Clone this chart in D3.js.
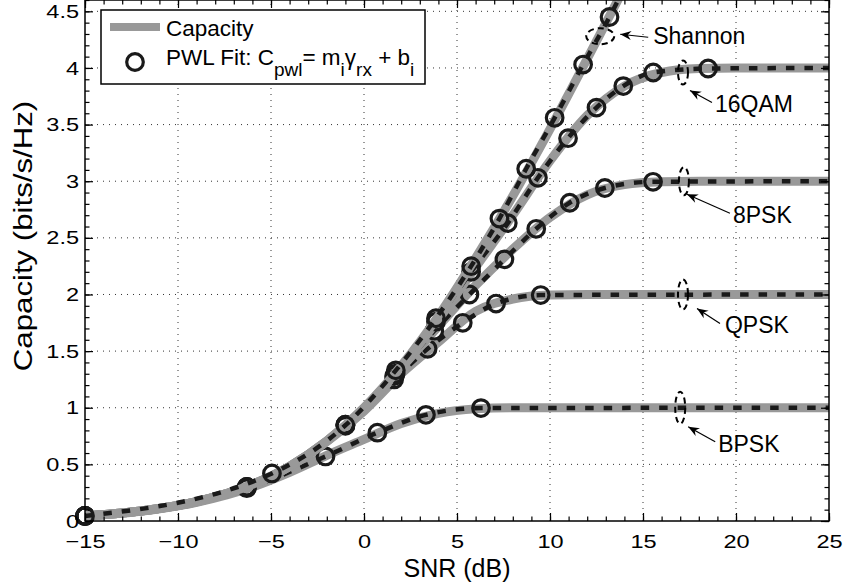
<!DOCTYPE html>
<html>
<head>
<meta charset="utf-8">
<script src="https://cdn.jsdelivr.net/npm/d3@7"></script>
<style>
  html, body { margin: 0; padding: 0; background: #fff; }
  svg { display: block; font-family: "Liberation Sans", Arial, Helvetica, sans-serif; }
</style>
</head>
<body>
<div id="chart"></div>
<script>
/** capacity curves (SNR in dB) */
var snrGrid = [-15, -12, -9, -6, -4, -2, 0, 2, 4, 6, 8, 10, 12, 14, 16, 18, 20, 22, 25];
var capBPSK = [0.045, 0.086, 0.165, 0.30, 0.43, 0.58, 0.72, 0.86, 0.95, 0.99, 1.0, 1.0, 1.0, 1.0, 1.0, 1.0, 1.0, 1.0, 1.0];
var capQPSK = [0.045, 0.088, 0.17, 0.32, 0.48, 0.70, 0.97, 1.30, 1.58, 1.85, 1.96, 1.995, 2.0, 2.0, 2.0, 2.0, 2.0, 2.0, 2.0];
var cap8PSK = [0.045, 0.088, 0.171, 0.323, 0.483, 0.705, 0.99, 1.35, 1.72, 2.08, 2.40, 2.68, 2.88, 2.97, 2.995, 3.0, 3.0, 3.0, 3.0];
var cap16QAM = [0.045, 0.088, 0.171, 0.323, 0.483, 0.706, 0.995, 1.36, 1.78, 2.24, 2.70, 3.18, 3.58, 3.84, 3.96, 3.995, 4.0, 4.0, 4.0];
var snrShannon = [-15, -12, -9, -6, -4, -2, 0, 2, 4, 6, 8, 10, 12, 14];
var capShannon = [0.045, 0.088, 0.171, 0.323, 0.483, 0.706, 1.0, 1.37, 1.81, 2.32, 2.87, 3.46, 4.08, 4.71];

/** piecewise-linear fit breakpoints (the circles) */
var fitSnrBPSK = [-15, -6.3, -2.07, 0.72, 3.33, 6.29];
var fitCapBPSK = [0.045, 0.29, 0.57, 0.78, 0.937, 0.997];
var fitSnrQPSK = [-15, -6.3, -1.0, 1.62, 3.42, 5.31, 7.1, 9.5];
var fitCapQPSK = [0.045, 0.30, 0.84, 1.25, 1.52, 1.75, 1.92, 1.995];
var fitSnr8PSK = [-15, -6.3, -1.0, 1.62, 3.78, 5.67, 7.55, 9.26, 11.06, 12.95, 15.54];
var fitCap8PSK = [0.045, 0.30, 0.85, 1.28, 1.68, 2.0, 2.31, 2.58, 2.81, 2.94, 2.995];
var fitSnr16QAM = [-15, -6.3, -1.0, 1.7, 3.87, 5.76, 7.73, 9.35, 10.97, 12.5, 13.94, 15.55, 18.5];
var fitCap16QAM = [0.045, 0.30, 0.85, 1.30, 1.76, 2.2, 2.63, 3.03, 3.38, 3.65, 3.84, 3.96, 3.995];
var fitSnrShannon = [-15, -4.95, -1.0, 1.71, 3.87, 5.76, 7.28, 8.72, 10.25, 11.78, 13.2, 14.7];
var fitCapShannon = [0.045, 0.42, 0.845, 1.33, 1.79, 2.25, 2.67, 3.11, 3.56, 4.03, 4.45, 4.95];

/** the fit runs flat out to the right edge at the saturation level */
var fitEndSnr = 25;
var fitEndCap = [1.0, 2.0, 3.0, 4.0, null];

/** annotation labels and where they point */
var annoNames = ["BPSK", "QPSK", "8PSK", "16QAM", "Shannon"];
var annoSnr = [17.0, 17.15, 17.2, 17.15, 12.7];
var annoCap = [1.0, 2.0, 3.0, 3.96, 4.28];

/** axis ticks */
var xTicks = [-15, -10, -5, 0, 5, 10, 15, 20, 25];
var yTicks = [0, 0.5, 1, 1.5, 2, 2.5, 3, 3.5, 4, 4.5];

/** sizes */
var width = 843, height = 588;
var margin = {top: 0, right: 14, bottom: 67, left: 85};
var x0 = margin.left, x1 = width - margin.right;
var y0 = height - margin.bottom, y1 = margin.top;

var svg = d3.select("#chart")
  .append("svg")
    .attr("width", width)
    .attr("height", height);

var x = d3.scaleLinear().domain([-15, 25]).range([x0, x1]);
var y = d3.scaleLinear().domain([0, 4.6]).range([y0, y1]);

var defs = svg.append("defs");
defs.append("clipPath").attr("id", "plotclip")
  .append("rect")
    .attr("x", x0).attr("y", y1)
    .attr("width", x1 - x0).attr("height", y0 - y1);

defs.append("marker")
    .attr("id", "arrow")
    .attr("viewBox", "-12 -6 13 12")
    .attr("refX", 0).attr("refY", 0)
    .attr("markerWidth", 13).attr("markerHeight", 12)
    .attr("markerUnits", "userSpaceOnUse")
    .attr("orient", "auto")
  .append("path")
    .attr("d", "M0,0 L-11,-4.5 L-7.5,0 L-11,4.5 Z")
    .attr("fill", "#000");

/** dotted grid */
var grid = svg.append("g");
grid.selectAll("line.gx")
  .data(xTicks.slice(1, -1))
  .enter().append("line")
    .attr("x1", function(d) { return x(d); })
    .attr("x2", function(d) { return x(d); })
    .attr("y1", y0).attr("y2", y1)
    .attr("stroke", "#333").attr("stroke-width", 1)
    .attr("stroke-dasharray", "1,5");
grid.selectAll("line.gy")
  .data(yTicks.slice(1))
  .enter().append("line")
    .attr("y1", function(d) { return y(d); })
    .attr("y2", function(d) { return y(d); })
    .attr("x1", x0).attr("x2", x1)
    .attr("stroke", "#333").attr("stroke-width", 1)
    .attr("stroke-dasharray", "1,5");

/** series: gray capacity, then dashed fit and circles, one after the other */
var series = [
  {snr: snrGrid, cap: capBPSK, fs: fitSnrBPSK, fc: fitCapBPSK},
  {snr: snrGrid, cap: capQPSK, fs: fitSnrQPSK, fc: fitCapQPSK},
  {snr: snrGrid, cap: cap8PSK, fs: fitSnr8PSK, fc: fitCap8PSK},
  {snr: snrGrid, cap: cap16QAM, fs: fitSnr16QAM, fc: fitCap16QAM},
  {snr: snrShannon, cap: capShannon, fs: fitSnrShannon, fc: fitCapShannon}
];

var line = d3.line()
  .x(function(d) { return x(d[0]); })
  .y(function(d) { return y(d[1]); })
  .curve(d3.curveMonotoneX);

var plot = svg.append("g");
series.forEach(function(s, i) {
  var capPts = s.snr.map(function(v, k) { return [v, s.cap[k]]; });
  var fitPts = s.fs.map(function(v, k) { return [v, s.fc[k]]; });
  var dashPts = fitPts.slice();
  if (fitEndCap[i] !== null) dashPts.push([fitEndSnr, fitEndCap[i]]);

  plot.append("path")
    .attr("clip-path", "url(#plotclip)")
    .attr("d", line(capPts))
    .attr("fill", "none")
    .attr("stroke", "#999")
    .attr("stroke-width", 9);

  plot.append("path")
    .attr("clip-path", "url(#plotclip)")
    .attr("d", line(dashPts))
    .attr("fill", "none")
    .attr("stroke", "#1a1a1a")
    .attr("stroke-width", 4.5)
    .attr("stroke-dasharray", "8.5,10");

  plot.selectAll(null)
    .data(fitPts.filter(function(d) { return d[1] <= 4.6; }))
    .enter().append("circle")
      .attr("cx", function(d) { return x(d[0]); })
      .attr("cy", function(d) { return y(d[1]); })
      .attr("r", 8.3)
      .attr("fill", "none")
      .attr("stroke", "#1a1a1a")
      .attr("stroke-width", 3.2);
});

/** axes: ticks inward on all four sides */
var fmt = d3.format("~g");
function minorX() { var a = []; for (var v = -15; v <= 25; v++) a.push(v); return a; }
function minorY() { var a = []; for (var v = 0; v <= 46; v++) a.push(v / 10); return a; }

function styleAxis(g) {
  g.selectAll(".domain").remove();
  g.selectAll(".tick line").attr("stroke", "#000").attr("stroke-width", 1.2);
}

var axBottom = svg.append("g").attr("transform", "translate(0," + y0 + ")");
axBottom.call(d3.axisBottom(x).tickValues(minorX()).tickSizeInner(-4.5).tickSizeOuter(0).tickFormat("")).call(styleAxis);
var axBottomMajor = svg.append("g").attr("transform", "translate(0," + y0 + ")")
  .call(d3.axisBottom(x).tickValues(xTicks).tickSizeInner(-8).tickSizeOuter(0).tickPadding(14).tickFormat(fmt))
  .call(styleAxis);

var axTop = svg.append("g").attr("transform", "translate(0," + y1 + ")");
axTop.call(d3.axisTop(x).tickValues(minorX()).tickSizeInner(-4.5).tickSizeOuter(0).tickFormat("")).call(styleAxis);
axTop.append("g").call(d3.axisTop(x).tickValues(xTicks).tickSizeInner(-8).tickSizeOuter(0).tickFormat("")).call(styleAxis);

var axLeft = svg.append("g").attr("transform", "translate(" + x0 + ",0)");
axLeft.call(d3.axisLeft(y).tickValues(minorY()).tickSizeInner(-4.5).tickSizeOuter(0).tickFormat("")).call(styleAxis);
var axLeftMajor = svg.append("g").attr("transform", "translate(" + x0 + ",0)")
  .call(d3.axisLeft(y).tickValues(yTicks).tickSizeInner(-8).tickSizeOuter(0).tickPadding(4.8).tickFormat(fmt))
  .call(styleAxis);

var axRight = svg.append("g").attr("transform", "translate(" + x1 + ",0)");
axRight.call(d3.axisRight(y).tickValues(minorY()).tickSizeInner(-4.5).tickSizeOuter(0).tickFormat("")).call(styleAxis);
axRight.append("g").call(d3.axisRight(y).tickValues(yTicks).tickSizeInner(-8).tickSizeOuter(0).tickFormat("")).call(styleAxis);

/** tick labels look stretched sideways in the original */
[axBottomMajor, axLeftMajor].forEach(function(g) {
  g.attr("font-family", null).attr("font-size", 19);
  g.selectAll(".tick text")
    .attr("fill", "#000")
    .attr("transform", "scale(1.24,1)");
});

/** frame */
svg.append("rect")
  .attr("x", x0).attr("y", y1)
  .attr("width", x1 - x0).attr("height", y0 - y1)
  .attr("fill", "none")
  .attr("stroke", "#000")
  .attr("stroke-width", 1.5);

/** annotations: dashed ellipse, arrow, label */
var annoLayout = [
  {rx: 5, ry: 16, tip: [8, 19], tail: [35, 34], text: [38, 44]},
  {rx: 5, ry: 15, tip: [14, 14], tail: [37, 29], text: [42, 39]},
  {rx: 5, ry: 14, tip: [3, 13], tail: [46, 32], text: [49, 42]},
  {rx: 5, ry: 12, tip: [7, 18], tail: [29, 30], text: [32, 40]},
  {rx: 14, ry: 8, tip: [20, -2], tail: [48, 1], text: [53, 8]}
];

var anno = svg.append("g");
annoNames.forEach(function(name, i) {
  var cx = x(annoSnr[i]), cy = y(annoCap[i]), L = annoLayout[i];
  anno.append("ellipse")
    .attr("cx", cx).attr("cy", cy)
    .attr("rx", L.rx).attr("ry", L.ry)
    .attr("fill", "none")
    .attr("stroke", "#000")
    .attr("stroke-width", 2)
    .attr("stroke-dasharray", "6,4");
  anno.append("line")
    .attr("x1", cx + L.tail[0]).attr("y1", cy + L.tail[1])
    .attr("x2", cx + L.tip[0]).attr("y2", cy + L.tip[1])
    .attr("stroke", "#000")
    .attr("stroke-width", 1.2)
    .attr("marker-end", "url(#arrow)");
  anno.append("text")
    .attr("x", cx + L.text[0]).attr("y", cy + L.text[1])
    .attr("font-size", 23)
    .attr("fill", "#000")
    .text(name);
});

/** axis labels */
svg.append("text")
  .attr("x", (x0 + x1) / 2).attr("y", 577)
  .attr("text-anchor", "middle")
  .attr("font-size", 25)
  .text("SNR (dB)");

svg.append("text")
  .attr("transform", "translate(32,236) rotate(-90) scale(1.2,1)")
  .attr("text-anchor", "middle")
  .attr("font-size", 26)
  .text("Capacity (bits/s/Hz)");

/** legend */
var legend = svg.append("g");
legend.append("rect")
  .attr("x", 101).attr("y", 10)
  .attr("width", 324).attr("height", 74)
  .attr("fill", "#fff")
  .attr("stroke", "#000")
  .attr("stroke-width", 1.5);
legend.append("line")
  .attr("x1", 110).attr("x2", 160)
  .attr("y1", 27).attr("y2", 27)
  .attr("stroke", "#999")
  .attr("stroke-width", 8);
legend.append("text")
  .attr("x", 166).attr("y", 36)
  .attr("font-size", 22.5)
  .text("Capacity");
legend.append("circle")
  .attr("cx", 135).attr("cy", 62)
  .attr("r", 8.3)
  .attr("fill", "none")
  .attr("stroke", "#1a1a1a")
  .attr("stroke-width", 3.2);

var t2 = legend.append("text")
  .attr("x", 166).attr("y", 65)
  .attr("font-size", 22.5);
var parts = [
  ["PWL Fit: C", 0, 22.5],
  ["pwl", 11, 19],
  ["= m", -11, 22.5],
  ["i", 11, 19],
  ["\u03b3", -11, 22.5],
  ["rx", 11, 19],
  ["\u00a0+ b", -11, 22.5],
  ["i", 11, 19]
];
parts.forEach(function(p) {
  t2.append("tspan")
    .attr("dy", p[1])
    .attr("font-size", p[2])
    .text(p[0]);
});
</script>
</body>
</html>
